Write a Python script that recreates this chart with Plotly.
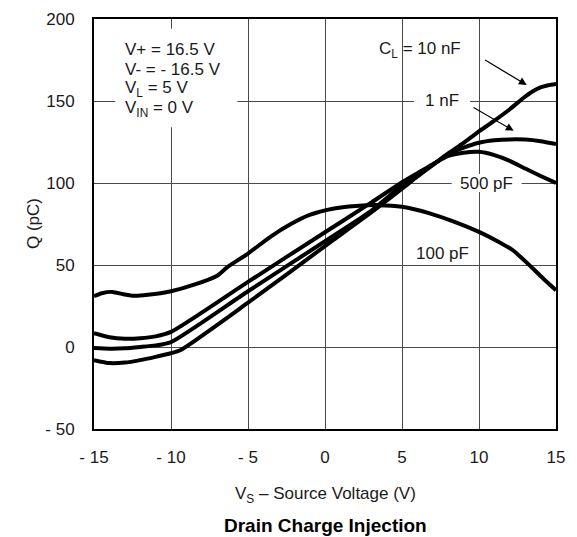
import plotly.graph_objects as go

FONT = "Liberation Sans, Arial, Helvetica, sans-serif"
INK = "#1a1a1a"

# ---- axis ticks ----
x_ticks = [-15, -10, -5, 0, 5, 10, 15]
x_tick_text = ["- 15", "- 10", "- 5", "0", "5", "10", "15"]
y_ticks = [-50, 0, 50, 100, 150, 200]
y_tick_text = ["- 50", "0", "50", "100", "150", "200"]

# ---- series: V_S (V) vs Q (pC) ----
vs_100p = [-15, -14.5, -13.8, -13, -12.4, -11.5, -10, -8.5, -7, -6.3, -5, -3.5, -2.3, -1, 0.5, 2, 3.5, 5, 6.8, 8.5, 10, 11.2, 12.2, 13.4, 14.2, 15]
q_100p = [31, 32.8, 33.6, 32, 31.2, 31.8, 34, 38, 43.5, 49, 57, 67.5, 74.5, 80.5, 84.3, 86, 86.5, 85.5, 81.5, 76, 70.2, 64.5, 59, 48.8, 41.5, 34.6]

vs_500p = [-15, -14, -13, -12, -11, -10, -5, 0, 3, 5, 6, 7, 8, 9, 10, 11, 12, 13, 14, 15]
q_500p = [8.5, 6, 5, 5.3, 6.5, 9.2, 39.7, 70, 88, 100.5, 106, 111.5, 116.5, 118.5, 119, 117, 113.5, 108.8, 104.3, 100]

vs_1n = [-15, -14, -13, -12, -11, -10, -5, 0, 3, 5, 6, 7, 8, 9, 10, 11, 12, 13, 14, 15]
q_1n = [-0.6, -1, -0.8, 0, 1, 3, 34, 64.5, 83, 98.5, 105, 111, 117.5, 121.5, 124.5, 126, 126.6, 126.5, 125.5, 123.7]

vs_10n = [-15, -14, -13, -12, -11, -10, -9.4, -5, 0, 3, 5, 6, 7, 8, 9, 10, 11, 12, 12.9, 13.5, 14, 14.5, 15]
q_10n = [-8, -9.8, -9.5, -8, -6, -3.8, -2, 27, 61.5, 82, 96.5, 104, 111, 118, 124.5, 131.5, 138, 145, 152, 156, 158.3, 159.6, 160.4]

series = [
    ("100 pF", vs_100p, q_100p),
    ("500 pF", vs_500p, q_500p),
    ("1 nF", vs_1n, q_1n),
    ("10 nF", vs_10n, q_10n),
]

fig = go.Figure()
for name, xs, ys in series:
    fig.add_trace(go.Scatter(
        x=xs, y=ys, mode="lines", name=name,
        line=dict(color="black", width=4, shape="spline", smoothing=0.6),
        showlegend=False, hoverinfo="skip",
    ))

# ---- conditions box ----
cond_lines = ["V+ = 16.5 V", "V- = - 16.5 V", "V<sub>L</sub> = 5 V", "V<sub>IN</sub> = 0 V"]
cond_x = -13.1
cond_y = [181.5, 169.3, 157.1, 144.9]

shapes = [dict(type="rect", xref="x", yref="y", x0=-13.62, x1=-5.69, y0=134, y1=194,
               fillcolor="white", line=dict(width=0), layer="between")]
annotations = []
for t, yy in zip(cond_lines, cond_y):
    annotations.append(dict(x=cond_x, y=yy, xref="x", yref="y", text=t, showarrow=False,
                            xanchor="left", yanchor="middle",
                            font=dict(family=FONT, size=17, color=INK)))

# ---- curve labels: (text, x, y, half-width px, half-height px) ----
labels = [
    ("C<sub>L</sub> = 10 nF", 6.2, 181, 0, 0),
    ("1 nF", 7.6, 150.5, 28, 9),
    ("500 pF", 10.5, 100, 35, 9),
    ("100 pF", 7.6, 57, 29, 9),
]
for t, lx, ly, hw, hh in labels:
    if hw > 0:
        shapes.append(dict(type="rect", xref="x", yref="y", xsizemode="pixel", ysizemode="pixel",
                           xanchor=lx, yanchor=ly, x0=-hw, x1=hw, y0=-hh, y1=hh,
                           fillcolor="white", line=dict(width=0), layer="between"))
    annotations.append(dict(x=lx, y=ly, xref="x", yref="y", text=t, showarrow=False,
                            xanchor="center", yanchor="middle",
                            font=dict(family=FONT, size=17, color=INK)))

# ---- arrows: (tail x, tail y, head x, head y) ----
arrows = [(10.3, 175.5, 13.1, 159.8), (9.55, 146.5, 12.25, 131.9)]
for tx, ty, hx, hy in arrows:
    annotations.append(dict(x=hx, y=hy, ax=tx, ay=ty, xref="x", yref="y", axref="x", ayref="y",
                            text="", showarrow=True, arrowhead=2, arrowsize=1.3, arrowwidth=1.2,
                            arrowcolor="black", standoff=0, startstandoff=0))

# ---- axis titles and chart title ----
annotations.append(dict(x=-0.132, y=0.5, xref="paper", yref="paper", text="Q (pC)", textangle=-90,
                        showarrow=False, xanchor="center", yanchor="middle",
                        font=dict(family=FONT, size=17, color=INK)))
annotations.append(dict(x=0.5, y=-0.16, xref="paper", yref="paper",
                        text="V<sub>S</sub> \u2013 Source Voltage (V)", showarrow=False,
                        xanchor="center", yanchor="middle",
                        font=dict(family=FONT, size=17, color=INK)))
annotations.append(dict(x=0.5, y=-0.235, xref="paper", yref="paper",
                        text="<b>Drain Charge Injection</b>", showarrow=False,
                        xanchor="center", yanchor="middle",
                        font=dict(family=FONT, size=19, color="black")))

axis_common = dict(showgrid=True, gridcolor="#4a4a4a", gridwidth=1, zeroline=False,
                   showline=True, mirror=True, linecolor="black", linewidth=2,
                   ticks="outside", tickcolor="rgba(0,0,0,0)",
                   tickfont=dict(family=FONT, size=17, color=INK))

# the page body adds an 8 px margin, so the figure is sized and offset to compensate
fig.update_layout(
    width=561, height=529,
    margin=dict(l=86, r=13, t=11, b=108, autoexpand=False),
    paper_bgcolor="white", plot_bgcolor="white",
    xaxis=dict(range=[-15, 15], tickvals=x_ticks, ticktext=x_tick_text, ticklen=12, **axis_common),
    yaxis=dict(range=[-50, 200], tickvals=y_ticks, ticktext=y_tick_text, ticklen=14, **axis_common),
    shapes=shapes,
    annotations=annotations,
    font=dict(family=FONT),
)

fig.write_html("out.html")
